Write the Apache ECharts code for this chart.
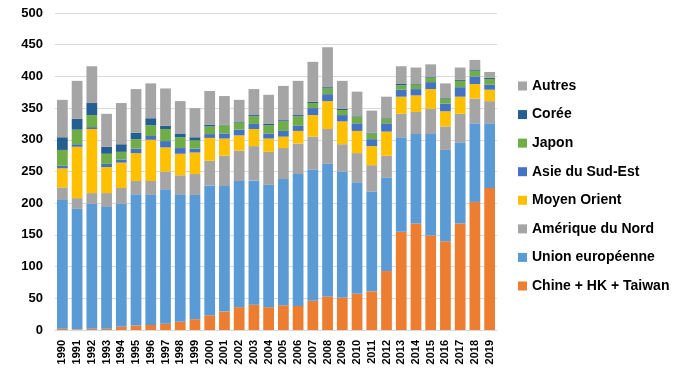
<!DOCTYPE html>
<html>
<head>
<meta charset="utf-8">
<script src="https://cdn.jsdelivr.net/npm/echarts@6/dist/echarts.min.js"></script>
<style>html,body{margin:0;padding:0;background:#fff}#c{width:700px;height:388px}</style>
</head>
<body>
<div id="c"></div>
<script>
const years = ['1990','1991','1992','1993','1994','1995','1996','1997','1998','1999','2000','2001','2002','2003','2004','2005','2006','2007','2008','2009','2010','2011','2012','2013','2014','2015','2016','2017','2018','2019'];
const yTicks = [0,50,100,150,200,250,300,350,400,450,500];
const chine   = [2,1,2,2,5,7,8,10,13,17,23,29,36,40,36,39,38,46,53,51,57,61,93,155,168,149,140,168,202,224];
const ue      = [203,190,197,192,194,207,205,212,201,196,205,198,199,196,193,199,208,207,209,199,176,157,147,149,141,160,144,128,124,102];
const amNord  = [20,17,17,22,25,21,22,28,30,33,39,48,48,54,52,49,48,52,55,43,46,42,35,37,35,40,37,45,39,35];
const moyenOr = [30,81,101,41,40,44,65,38,34,34,36,27,24,27,21,18,20,34,44,36,35,30,38,27,26,31,24,27,23,18];
const asieSE  = [4,4,3,5,5,7,6,10,9,6,6,8,9,8,8,9,8,11,11,10,12,11,13,11,10,11,12,15,12,8];
const japon   = [25,23,19,16,12,15,17,19,17,13,12,13,11,12,13,15,15,8,9,8,10,9,7,7,7,7,8,10,9,9];
const coree   = [20,17,19,11,12,10,11,5,6,5,3,1,1,2,2,2,2,2,2,2,1,1,1,2,1,1,1,2,2,2];
const autres  = [59,60,58,52,65,69,55,59,51,46,53,45,35,41,46,54,54,63,63,44,39,35,34,28,26,20,23,19,15,9];

const names = ['Chine + HK + Taiwan','Union européenne','Amérique du Nord','Moyen Orient','Asie du Sud-Est','Japon','Corée','Autres'];
const colors = ['#ED7D31','#5B9BD5','#A5A5A5','#FFC000','#4472C4','#70AD47','#255E91','#A5A5A5'];
const datas = [chine, ue, amNord, moyenOr, asieSE, japon, coree, autres];

const chart = echarts.init(document.getElementById('c'));
chart.setOption({
  animation: false,
  textStyle: { fontFamily: 'Liberation Sans, Arial, sans-serif' },
  grid: { left: 55, right: 203, top: 13, bottom: 58 },
  legend: {
    orient: 'vertical',
    left: 513, top: 71,
    data: names.slice().reverse(),
    itemWidth: 9, itemHeight: 9, itemGap: 8.57,
    icon: 'rect',
    textStyle: { fontSize: 14, fontWeight: 'bold', color: '#000', lineHeight: 20, padding: [0,0,0,0] }
  },
  xAxis: {
    type: 'category', data: years,
    axisTick: { show: false },
    axisLine: { lineStyle: { color: '#D9D9D9', width: 1 } },
    axisLabel: { rotate: 90, interval: 0, fontSize: 11, fontWeight: 'bold', color: '#000', margin: 10 }
  },
  yAxis: {
    type: 'value', min: yTicks[0], max: yTicks[yTicks.length-1], interval: 50,
    axisLine: { show: false }, axisTick: { show: false },
    splitLine: { lineStyle: { color: '#D9D9D9', width: 1 } },
    axisLabel: { fontSize: 13, fontWeight: 'bold', color: '#000', margin: 12 }
  },
  series: names.map((n, i) => ({
    name: n, type: 'bar', stack: 'total', data: datas[i],
    barCategoryGap: '27%',
    itemStyle: { color: colors[i] }
  }))
});
</script>
</body>
</html>
